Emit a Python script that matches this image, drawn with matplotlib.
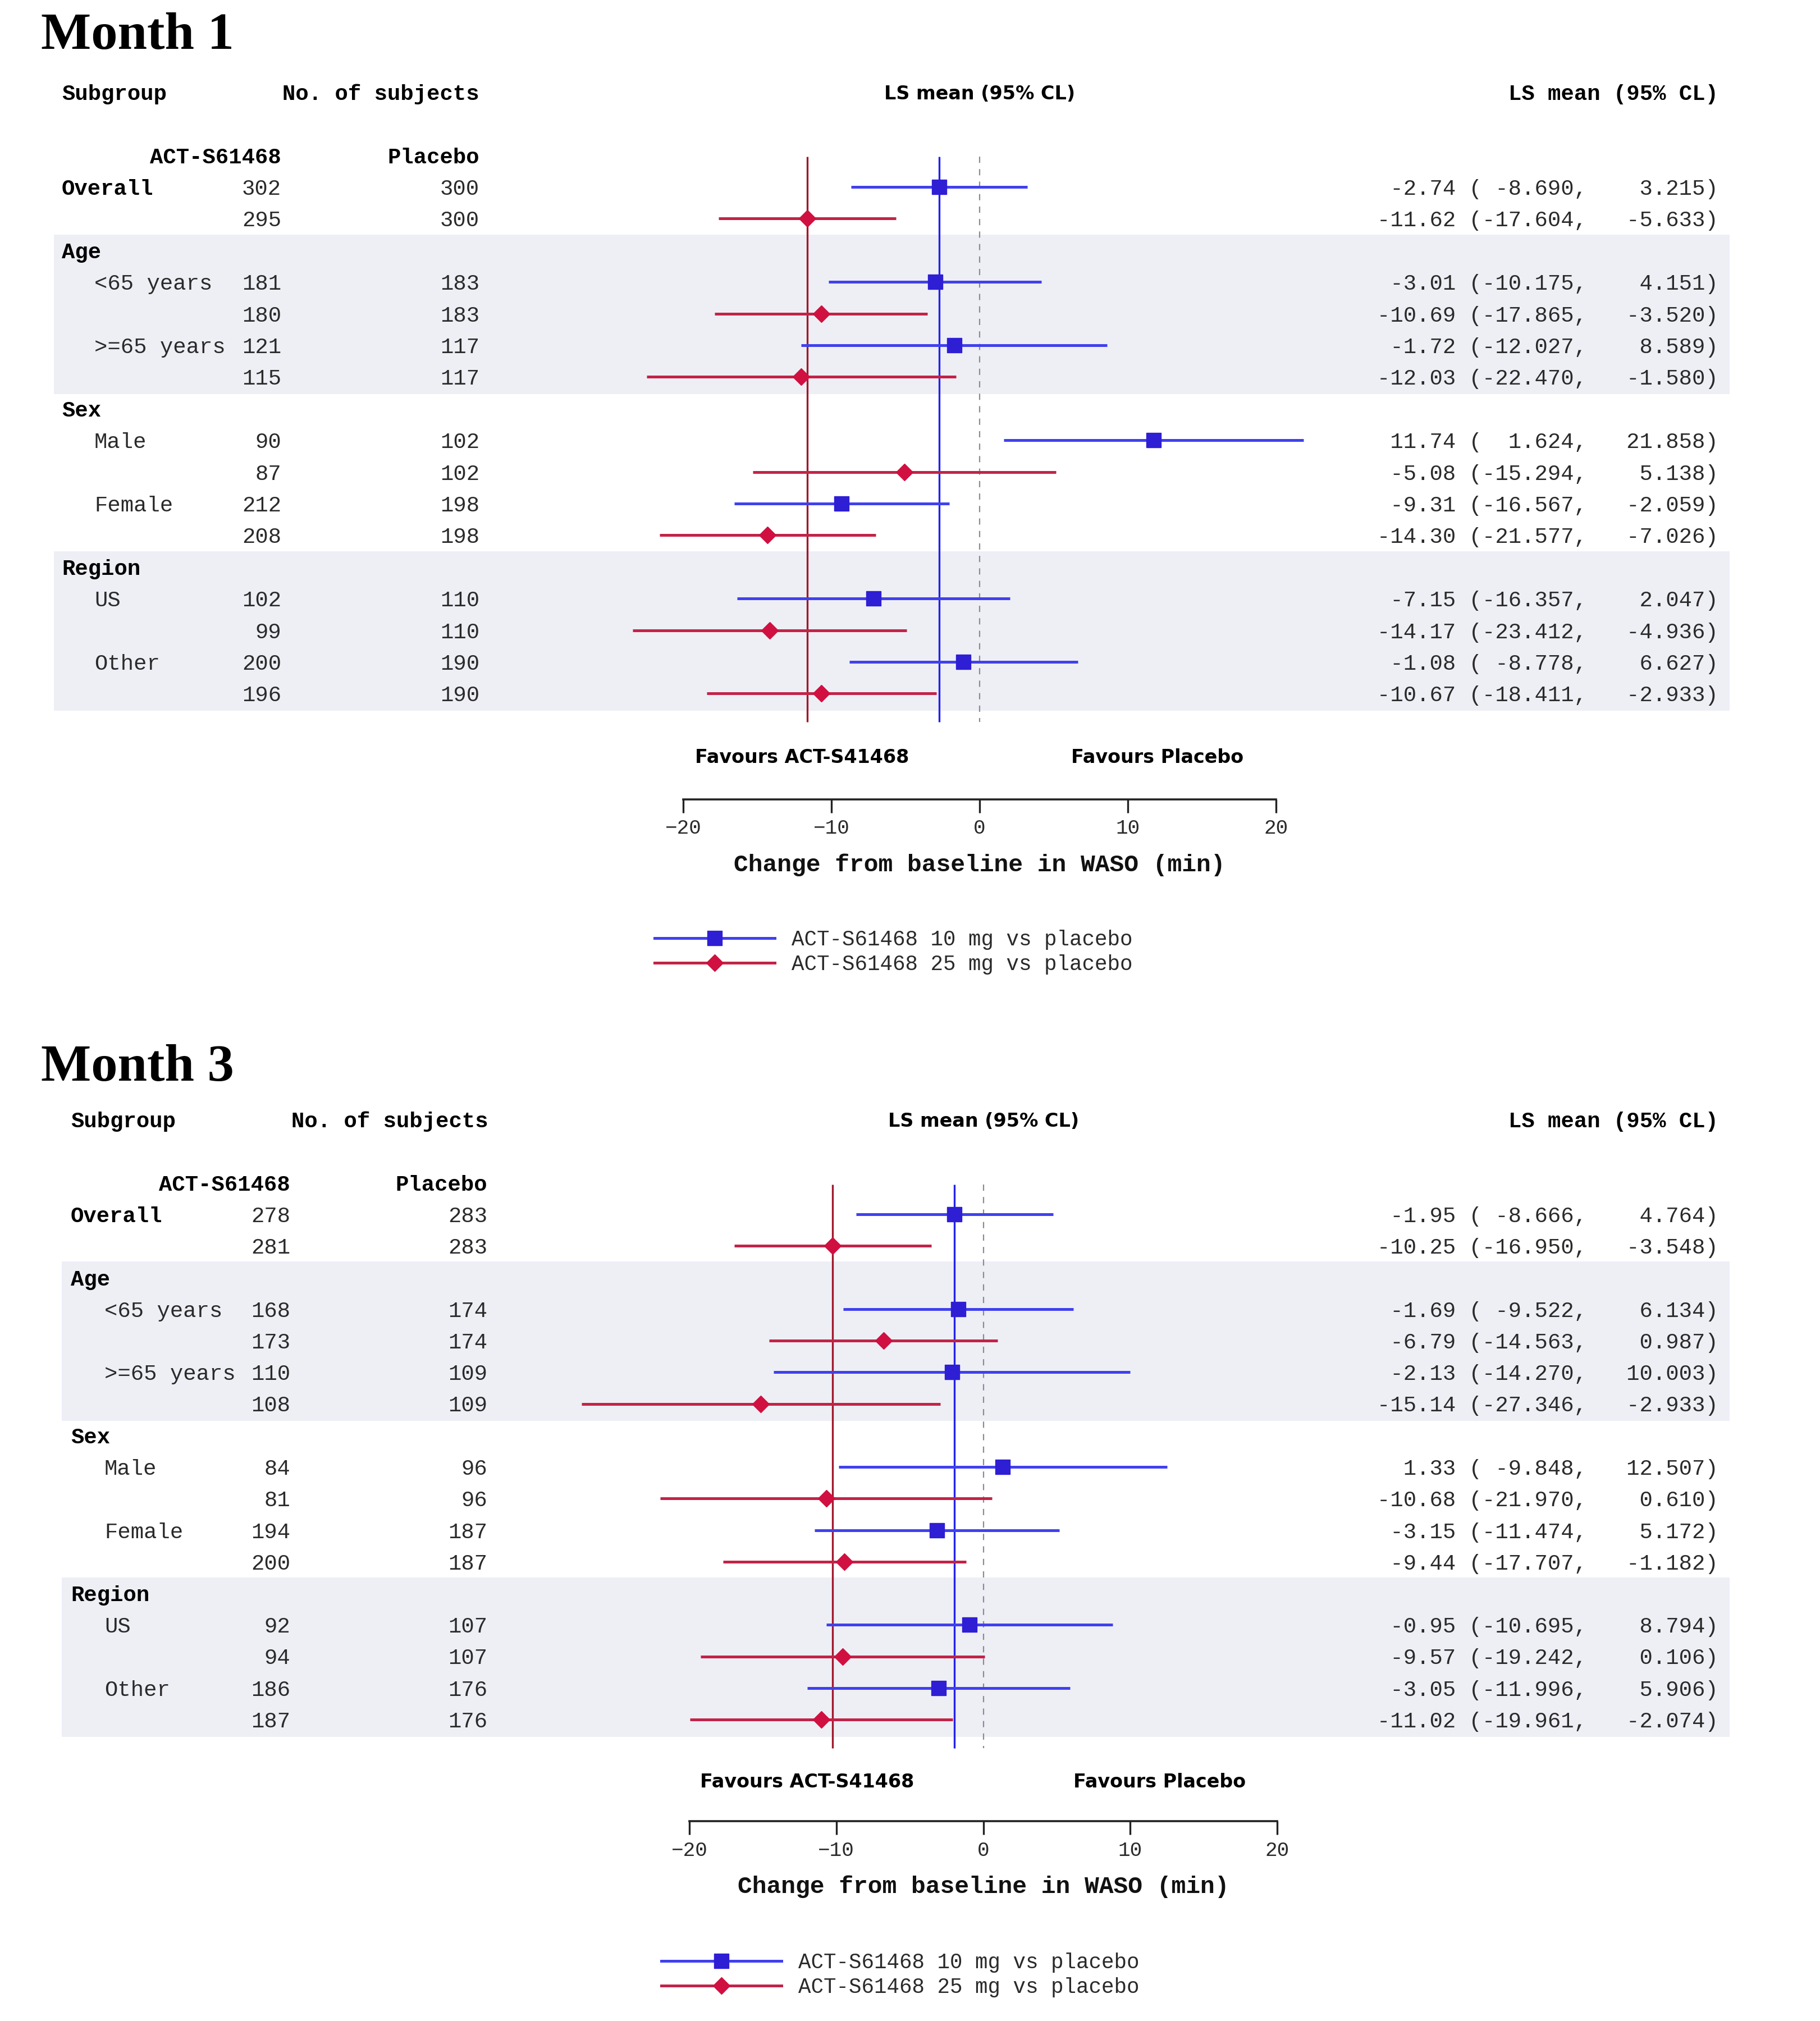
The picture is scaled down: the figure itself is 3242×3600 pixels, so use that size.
import matplotlib
matplotlib.use("Agg")
import matplotlib.pyplot as plt
from matplotlib.lines import Line2D

# ---- data ----
sections = [("Overall", ["Overall"]), ("Age", ["<65 years", ">=65 years"]),
            ("Sex", ["Male", "Female"]), ("Region", ["US", "Other"])]
treat_labels = ["ACT-S61468 10 mg vs placebo", "ACT-S61468 25 mg vs placebo"]

# order: Overall, <65, >=65, Male, Female, US, Other
m1_n_10 = [302, 181, 121, 90, 212, 102, 200]
m1_n_25 = [295, 180, 115, 87, 208, 99, 196]
m1_n_pbo = [300, 183, 117, 102, 198, 110, 190]
m1_mean_10 = [-2.74, -3.01, -1.72, 11.74, -9.31, -7.15, -1.08]
m1_lo_10 = [-8.690, -10.175, -12.027, 1.624, -16.567, -16.357, -8.778]
m1_hi_10 = [3.215, 4.151, 8.589, 21.858, -2.059, 2.047, 6.627]
m1_mean_25 = [-11.62, -10.69, -12.03, -5.08, -14.30, -14.17, -10.67]
m1_lo_25 = [-17.604, -17.865, -22.470, -15.294, -21.577, -23.412, -18.411]
m1_hi_25 = [-5.633, -3.520, -1.580, 5.138, -7.026, -4.936, -2.933]

m3_n_10 = [278, 168, 110, 84, 194, 92, 186]
m3_n_25 = [281, 173, 108, 81, 200, 94, 187]
m3_n_pbo = [283, 174, 109, 96, 187, 107, 176]
m3_mean_10 = [-1.95, -1.69, -2.13, 1.33, -3.15, -0.95, -3.05]
m3_lo_10 = [-8.666, -9.522, -14.270, -9.848, -11.474, -10.695, -11.996]
m3_hi_10 = [4.764, 6.134, 10.003, 12.507, 5.172, 8.794, 5.906]
m3_mean_25 = [-10.25, -6.79, -15.14, -10.68, -9.44, -9.57, -11.02]
m3_lo_25 = [-16.950, -14.563, -27.346, -21.970, -17.707, -19.242, -19.961]
m3_hi_25 = [-3.548, 0.987, -2.933, 0.610, -1.182, 0.106, -2.074]

xticks = [-20, -10, 0, 10, 20]

W, H = 3242, 3600
MONO = "Liberation Mono"
TXT = "#2a2a2a"
BLUE_L, BLUE_M, BLUE_V = "#4040ee", "#2e1ed4", "#2222ee"
RED_L, RED_M, RED_V = "#c22348", "#d01040", "#a0182c"

fig = plt.figure(figsize=(W / 100, H / 100), dpi=100)
fig.patch.set_facecolor("white")


def panel(title, title_y, y0, dy, xa, xb, lab_x, ind_x, c1, c2, hdr_x, right_x,
          band_x, axis_row, fav_row, leg_x, leg_y,
          n10, n25, npbo, mu10, lo10, hi10, mu25, lo25, hi25):
    ax = fig.add_axes([xa / W, 1 - (y0 + axis_row * dy) / H,
                       (xb - xa) / W, (axis_row + 1.5) * dy / H])
    ax.patch.set_visible(False)
    ax.set_xlim(-20, 20)
    ax.set_ylim(axis_row, -1.5)
    fx = lambda px: (px - xa) / (xb - xa)
    tr = ax.get_yaxis_transform()

    fig.text(73 / W, 1 - title_y / H, title, family="Liberation Serif",
             weight="bold", size=68, va="center")

    def t(px, row, s, ha="left", bold=False, **kw):
        ax.text(fx(px), row, s, transform=tr, ha=ha, va="center_baseline",
                family=MONO, size=28, color="black" if bold else TXT,
                weight="bold" if bold else "normal", clip_on=False, **kw)

    t(lab_x, -3, "Subgroup", bold=True)
    t(c1 + 2, -3, "No. of subjects", bold=True)
    t(right_x, -3, "LS mean (95% CL)", ha="right", bold=True)
    ax.text(fx(hdr_x), -3, "LS mean (95% CL)", transform=tr, ha="center",
            va="center_baseline", size=24, weight="bold", clip_on=False)
    t(c1, -1, "ACT-S61468", ha="right", bold=True)
    t(c2, -1, "Placebo", ha="right", bold=True)

    row = 0
    k = 0
    rows10, rows25 = [], []
    for si, (sec, subs) in enumerate(sections):
        start = row
        if sec != "Overall":
            t(lab_x, row, sec, bold=True)
            row += 1
        for sub in subs:
            if sec == "Overall":
                t(lab_x, row, sub, bold=True)
            else:
                t(ind_x, row, sub)
            for r, n, mu, lo, hi in ((row, n10[k], mu10[k], lo10[k], hi10[k]),
                                     (row + 1, n25[k], mu25[k], lo25[k], hi25[k])):
                t(c1, r, str(n), ha="right")
                t(c2, r, str(npbo[k]), ha="right")
                t(right_x, r, f"{mu:6.2f} ({lo:7.3f},  {hi:7.3f})", ha="right")
            rows10.append(row)
            rows25.append(row + 1)
            row += 2
            k += 1
        if si % 2 == 1:
            ax.axhspan(start - 0.5, row - 0.45, xmin=fx(band_x[0]), xmax=fx(band_x[1]),
                       color="#eeeff5", zorder=0, clip_on=False, lw=0)

    ax.vlines(0, -0.95, 16.9, colors="#8a8a99", linestyles=(0, (5, 5)), lw=1.6, zorder=1)
    ax.vlines(mu25[0], -0.95, 16.9, colors=RED_V, lw=2.4, zorder=2)
    ax.vlines(mu10[0], -0.95, 16.9, colors=BLUE_V, lw=2.4, zorder=2)
    ax.hlines(rows10, lo10, hi10, colors=BLUE_L, lw=3.6, zorder=3, clip_on=False)
    ax.hlines(rows25, lo25, hi25, colors=RED_L, lw=3.6, zorder=3, clip_on=False)
    ax.plot(mu10, rows10, "s", color=BLUE_M, ms=19, zorder=4, ls="none")
    ax.plot(mu25, rows25, "D", color=RED_M, ms=15, zorder=4, ls="none")

    for sp in ("top", "left", "right"):
        ax.spines[sp].set_visible(False)
    ax.spines["bottom"].set_linewidth(2.6)
    ax.spines["bottom"].set_color("#222222")
    ax.set_yticks([])
    ax.set_xticks(xticks)
    ax.tick_params(axis="x", length=17, width=2.4, color="#222222", pad=8,
                   labelsize=26, labelcolor=TXT)
    for lab in ax.get_xticklabels():
        lab.set_family(MONO)

    ax.text(-12, fav_row, "Favours ACT-S41468", ha="center", va="center",
            size=24, weight="bold", clip_on=False)
    ax.text(12, fav_row, "Favours Placebo", ha="center", va="center",
            size=24, weight="bold", clip_on=False)
    ax.text(0.5, axis_row + 2.07, "Change from baseline in WASO (min)",
            transform=tr, ha="center", va="center", family=MONO, size=31,
            color="#111111", weight="bold", clip_on=False)

    handles = [Line2D([], [], color=BLUE_L, lw=3.6, marker="s", ms=19, mfc=BLUE_M, mec=BLUE_M),
               Line2D([], [], color=RED_L, lw=3.6, marker="D", ms=15, mfc=RED_M, mec=RED_M)]
    fig.legend(handles, treat_labels, loc="center left",
               bbox_to_anchor=(leg_x / W, 1 - leg_y / H), frameon=False,
               prop={"family": MONO, "size": 27}, handlelength=5.7,
               handletextpad=0.8, borderpad=0, borderaxespad=0, labelspacing=0.2,
               numpoints=1, labelcolor=TXT)


panel("Month 1", 64, 333, 56.4, 1217, 2273, 110, 168, 501, 854, 1745, 3061,
      (96, 3081), 19.34, 18.03, 1166, 1696,
      m1_n_10, m1_n_25, m1_n_pbo, m1_mean_10, m1_lo_10, m1_hi_10,
      m1_mean_25, m1_lo_25, m1_hi_25)
panel("Month 3", 1903, 2163, 56.25, 1228, 2275, 126, 186, 517, 868, 1752, 3061,
      (110, 3081), 19.22, 17.99, 1178, 3518,
      m3_n_10, m3_n_25, m3_n_pbo, m3_mean_10, m3_lo_10, m3_hi_10,
      m3_mean_25, m3_lo_25, m3_hi_25)

fig.savefig("out.png", dpi=100, facecolor="white")
